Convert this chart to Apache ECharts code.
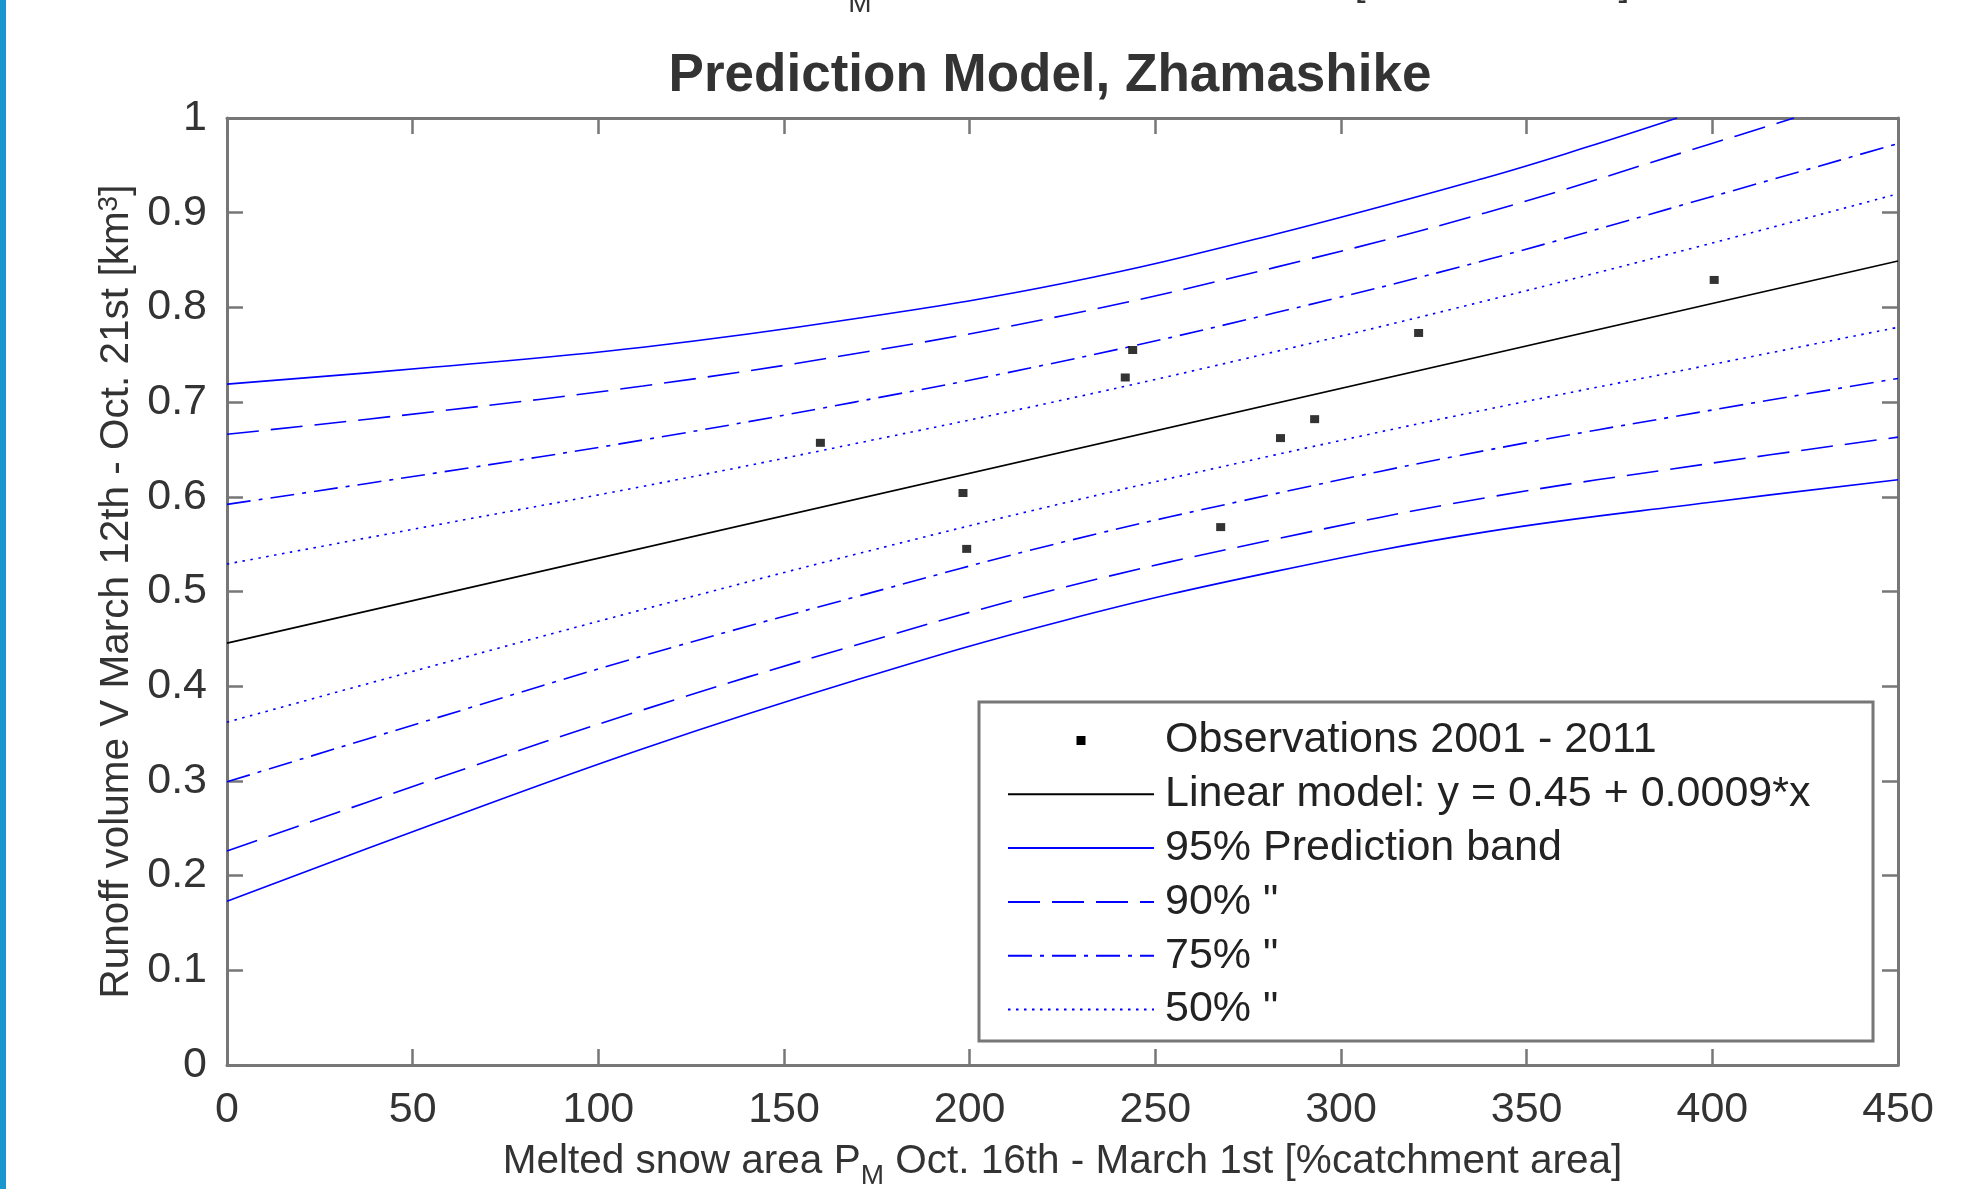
<!DOCTYPE html>
<html>
<head>
<meta charset="utf-8">
<title>Prediction Model, Zhamashike</title>
<script src="https://cdn.jsdelivr.net/npm/echarts@6/dist/echarts.min.js"></script>
<style>
  html, body { margin: 0; padding: 0; background: #fff; }
  #chart { width: 1966px; height: 1189px; }
</style>
</head>
<body>
<div id="chart"></div>
<script>
// observations 2001 - 2011
const obsX = [159.8, 198.2, 199.2, 241.9, 243.9, 267.6, 283.7, 292.9, 320.9, 400.5];
const obsY = [0.657, 0.604, 0.545, 0.726, 0.755, 0.568, 0.662, 0.682, 0.773, 0.829];

// linear model y = 0.45 + 0.0009*x (end points)
const linX = [0, 450];
const linY = [0.4455, 0.849];

// prediction band curves, sampled along x
const bandX = [0, 56, 112, 169, 226, 282, 339, 399, 450];
const up95X = [0, 56, 112, 169, 226, 282, 339, 366, 390.5];
const up95 = [0.719, 0.737, 0.758, 0.788, 0.826, 0.877, 0.937, 0.969, 1.0];
const lo95 = [0.173, 0.255, 0.334, 0.406, 0.470, 0.521, 0.563, 0.594, 0.618];
const up90X = [0, 56, 112, 169, 226, 282, 339, 399, 422];
const up90 = [0.666, 0.690, 0.717, 0.751, 0.792, 0.842, 0.900, 0.972, 1.0];
const lo90 = [0.226, 0.302, 0.375, 0.443, 0.505, 0.555, 0.599, 0.635, 0.663];
const up75 = [0.592, 0.625, 0.660, 0.700, 0.744, 0.794, 0.850, 0.916, 0.973];
const lo75 = [0.299, 0.366, 0.432, 0.494, 0.553, 0.603, 0.649, 0.691, 0.725];
const up50 = [0.529, 0.570, 0.611, 0.656, 0.703, 0.753, 0.807, 0.867, 0.920];
const lo50 = [0.362, 0.422, 0.481, 0.539, 0.594, 0.644, 0.692, 0.739, 0.779];

const NAME_OBS = 'Observations 2001 - 2011';
const NAME_LIN = 'Linear model: y = 0.45 + 0.0009*x';
const NAME_95 = '95% Prediction band';
const NAME_90 = '90% "';
const NAME_75 = '75% "';
const NAME_50 = '50% "';

const FONT = '"Liberation Sans", Arial, Helvetica, sans-serif';
const BLUE = '#0000ff';
const AXIS_GRAY = '#777';
const TEXT = '#333';

const zip = (xs, ys) => xs.map((x, i) => [x, ys[i]]);

function band(name, xs, ys, dash) {
  return {
    name,
    type: 'line',
    data: zip(xs, ys),
    symbol: 'none',
    smooth: 0.4,
    lineStyle: { color: BLUE, width: 1.6, type: dash },
    itemStyle: { color: BLUE },
    z: 2
  };
}

const DASH_90 = [32, 12];
const DASH_75 = [24, 8, 4, 8];
const DASH_50 = [2.5, 5.5];

const frameAxis = {
  axisLine: { show: true, onZero: false, lineStyle: { color: AXIS_GRAY, width: 3 } },
  axisTick: { show: true, inside: true, length: 16, lineStyle: { color: AXIS_GRAY, width: 2.5 } },
  splitLine: { show: false }
};

const chart = echarts.init(document.getElementById('chart'));

chart.setOption({
  backgroundColor: '#fff',
  animation: false,
  title: {
    text: 'Prediction Model, Zhamashike',
    left: 1045,
    textAlign: 'center',
    top: 45,
    textStyle: { fontSize: 53, fontWeight: 'bold', color: TEXT, fontFamily: FONT }
  },
  grid: { left: 227, right: 68, top: 118, bottom: 124, containLabel: false, outerBoundsMode: 'none' },
  xAxis: [
    Object.assign({
      type: 'value', position: 'bottom', min: 0, max: 450, interval: 50,
      axisLabel: { fontSize: 43, color: TEXT, fontFamily: FONT, margin: 24 },
      name: 'Melted snow area P{sub|M} Oct. 16th - March 1st [%catchment area]',
      nameLocation: 'middle',
      nameGap: 75,
      nameMoveOverlap: false,
      nameTextStyle: {
        fontSize: 40.5, lineHeight: 44, color: TEXT, fontFamily: FONT,
        rich: {
          sub: { fontSize: 28, lineHeight: 28, color: TEXT, fontFamily: FONT, padding: [22, 0, 0, 0], verticalAlign: 'top' }
        }
      }
    }, frameAxis),
    Object.assign({
      type: 'value', position: 'top', min: 0, max: 450, interval: 50,
      axisLabel: { show: false }
    }, frameAxis)
  ],
  yAxis: [
    Object.assign({
      type: 'value', position: 'left', min: 0, max: 1, interval: 0.1,
      axisLabel: { fontSize: 43, color: TEXT, fontFamily: FONT, margin: 20 },
      name: 'Runoff volume V March 12th - Oct. 21st [km{sup|3}]',
      nameLocation: 'middle',
      nameGap: 88,
      nameMoveOverlap: false,
      nameTextStyle: {
        fontSize: 40.5, lineHeight: 44, color: TEXT, fontFamily: FONT,
        rich: {
          sup: { fontSize: 28, lineHeight: 28, color: TEXT, fontFamily: FONT, padding: [0, 0, 28, 0], verticalAlign: 'top' }
        }
      }
    }, frameAxis),
    Object.assign({
      type: 'value', position: 'right', min: 0, max: 1, interval: 0.1,
      axisLabel: { show: false }
    }, frameAxis)
  ],
  legend: {
    orient: 'vertical',
    left: 1007,
    top: 718.5,
    padding: 0,
    itemWidth: 146,
    itemHeight: 14,
    itemGap: 9.8,
    selectedMode: false,
    textStyle: { fontSize: 43, lineHeight: 44, color: '#222', fontFamily: FONT, padding: [0, 0, 0, 6] },
    itemStyle: { opacity: 0 },
    data: [
      { name: NAME_OBS, icon: 'path://M0,0M146,14M68.5,2.5h9v9h-9z', itemStyle: { opacity: 1 } },
      NAME_LIN, NAME_95, NAME_90, NAME_75, NAME_50
    ],
    z: 6
  },
  graphic: [
    // left page border
    { type: 'rect', shape: { x: 0, y: 0, width: 6, height: 1189 }, style: { fill: '#1a96cc' }, z: 10 },
    // legend box
    { type: 'rect', shape: { x: 979, y: 702, width: 894, height: 339 }, style: { fill: '#fff', stroke: AXIS_GRAY, lineWidth: 3 }, z: 3 },
    // bits of the cut-off label above the figure
    { type: 'text', x: 860, y: 18, style: { text: 'M', fontSize: 28, fontFamily: FONT, fill: TEXT, align: 'center', verticalAlign: 'bottom' }, z: 10 },
    { type: 'text', x: 1360, y: 4, style: { text: '[', fontSize: 40, fontFamily: FONT, fill: TEXT, align: 'center', verticalAlign: 'bottom' }, z: 10 },
    { type: 'text', x: 1624, y: 4, style: { text: ']', fontSize: 40, fontFamily: FONT, fill: TEXT, align: 'center', verticalAlign: 'bottom' }, z: 10 }
  ],
  series: [
    {
      name: NAME_OBS,
      type: 'scatter',
      data: zip(obsX, obsY),
      symbol: 'rect',
      symbolSize: [9, 8],
      itemStyle: { color: '#000' },
      z: 5
    },
    {
      name: NAME_LIN,
      type: 'line',
      data: zip(linX, linY),
      symbol: 'none',
      lineStyle: { color: '#000', width: 1.6 },
      itemStyle: { color: '#000' },
      z: 3
    },
    band(NAME_95, up95X, up95, 'solid'),
    band(NAME_95, bandX, lo95, 'solid'),
    band(NAME_90, up90X, up90, DASH_90),
    band(NAME_90, bandX, lo90, DASH_90),
    band(NAME_75, bandX, up75, DASH_75),
    band(NAME_75, bandX, lo75, DASH_75),
    band(NAME_50, bandX, up50, DASH_50),
    band(NAME_50, bandX, lo50, DASH_50)
  ]
});
</script>
</body>
</html>
